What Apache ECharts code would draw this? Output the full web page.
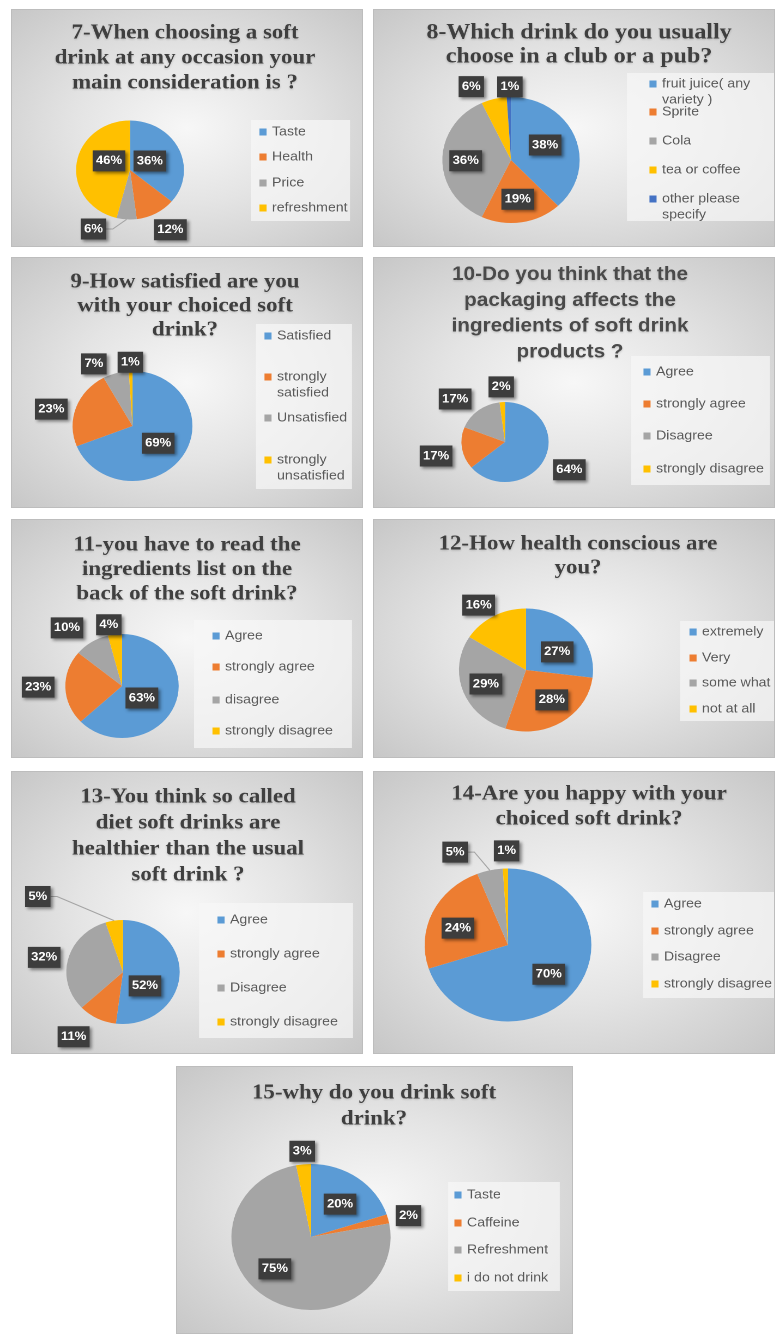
<!DOCTYPE html>
<html><head><meta charset="utf-8">
<script src="https://cdn.jsdelivr.net/npm/echarts@6/dist/echarts.min.js"></script>
<style>
html,body{margin:0;padding:0;background:#fff;width:776px;height:1335px;overflow:hidden;}
.panel{position:absolute;box-sizing:border-box;border:1px solid #bdbdbd;
  background:radial-gradient(ellipse farthest-corner at 50% 50%, #f7f7f7 0%, #e4e4e4 45%, #c7c7c7 100%);overflow:hidden;}
.chart{position:absolute;left:0;top:0;transform-origin:0 0;}
</style></head><body>
<script>
// ---------------- data ----------------
const q7Title = '7-When choosing a soft\ndrink at any occasion your\nmain consideration is ?';
const q7Categories = ['Taste', 'Health', 'Price', 'refreshment'];
const q7Values = [36, 12, 6, 46];

const q8Title = '8-Which drink do you usually\nchoose in a club or a pub?';
const q8Categories = ['fruit juice( any variety )', 'Sprite', 'Cola', 'tea or coffee', 'other please specify'];
const q8LegendText = ['fruit juice( any\nvariety )', 'Sprite', 'Cola', 'tea or coffee', 'other please\nspecify'];
const q8Values = [38, 19, 36, 6, 1];

const q9Title = '9-How satisfied are you\nwith your choiced soft\ndrink?';
const q9Categories = ['Satisfied', 'strongly satisfied', 'Unsatisfied', 'strongly unsatisfied'];
const q9LegendText = ['Satisfied', 'strongly\nsatisfied', 'Unsatisfied', 'strongly\nunsatisfied'];
const q9Values = [69, 23, 7, 1];

const q10Title = '10-Do you think that the\npackaging affects the\ningredients of soft drink\nproducts ?';
const q10Categories = ['Agree', 'strongly agree', 'Disagree', 'strongly disagree'];
const q10Values = [64, 17, 17, 2];

const q11Title = '11-you have to read the\ningredients list on the\nback of the soft drink?';
const q11Categories = ['Agree', 'strongly agree', 'disagree', 'strongly disagree'];
const q11Values = [63, 23, 10, 4];

const q12Title = '12-How health conscious are\nyou?';
const q12Categories = ['extremely', 'Very', 'some what', 'not at all'];
const q12Values = [27, 28, 29, 16];

const q13Title = '13-You think so called\ndiet soft drinks are\nhealthier than the usual\nsoft drink ?';
const q13Categories = ['Agree', 'strongly agree', 'Disagree', 'strongly disagree'];
const q13Values = [52, 11, 32, 5];

const q14Title = '14-Are you happy with your\nchoiced soft drink?';
const q14Categories = ['Agree', 'strongly agree', 'Disagree', 'strongly disagree'];
const q14Values = [70, 24, 5, 1];

const q15Title = '15-why do you drink soft\ndrink?';
const q15Categories = ['Taste', 'Caffeine', 'Refreshment', 'i do not drink'];
const q15Values = [20, 2, 75, 3];

// ---------------- styling / layout ----------------
const S = 1.09; // the reference picture is stretched horizontally
const COLORS = ['#5B9BD5', '#ED7D31', '#A5A5A5', '#FFC000', '#4472C4'];
const SERIF = '"Liberation Serif", "DejaVu Serif", serif';
const SANS = '"Liberation Sans", Arial, sans-serif';

const charts = [
  { title: q7Title, cats: q7Categories, vals: q7Values, panel: [11, 9, 352, 238], center: [130, 170], r: 49.5,
    titlePos: [185, 33], titleSize: 21, titleLH: 25, serif: true,
    place: [[0.41, -1], [1.42, -3], [1.37, 26], [0.43, 18]], leader: 2,
    legendX: 263, legendY: [132, 157, 183, 208], legendBox: [251, 120, 350, 221] },
  { title: q8Title, cats: q8Categories, legendText: q8LegendText, vals: q8Values, panel: [373, 9, 402, 238], center: [511, 160], r: 63,
    titlePos: [579, 33], titleSize: 22, titleLH: 24, serif: true,
    place: [[0.55, -4], [0.63, 0], [0.66, -1], [1.30, -12], [1.16, 1]], leader: -1,
    legendX: 653, legendY: [84, 112, 141, 170, 199], legendBox: [627, 73, 775, 221] },
  { title: q9Title, cats: q9Categories, legendText: q9LegendText, vals: q9Values, panel: [11, 257, 352, 251], center: [132.5, 426], r: 55,
    titlePos: [185, 282], titleSize: 21, titleLH: 24, serif: true,
    place: [[0.53, 2], [1.39, -7], [1.30, -13.5], [1.16, 0]], leader: -1,
    legendX: 268, legendY: [336, 377, 418, 460], legendBox: [256, 324, 352, 489] },
  { title: q10Title, cats: q10Categories, vals: q10Values, panel: [373, 257, 402, 251], center: [505, 442], r: 40,
    titlePos: [570, 275], titleSize: 19, titleLH: 25.7, serif: false,
    place: [[1.63, 0], [1.62, -3.5], [1.57, -9], [1.38, 0]], leader: -1,
    legendX: 647, legendY: [372, 404, 436, 469], legendBox: [631, 356, 770, 485] },
  { title: q11Title, cats: q11Categories, vals: q11Values, panel: [11, 519, 352, 239], center: [122, 686], r: 52,
    titlePos: [187, 545], titleSize: 21, titleLH: 24.5, serif: true,
    place: [[0.42, 10], [1.48, 1], [1.48, -8.6], [1.2, -4]], leader: -1,
    legendX: 216, legendY: [636, 667, 700, 731], legendBox: [194, 620, 352, 748] },
  { title: q12Title, cats: q12Categories, vals: q12Values, panel: [373, 519, 402, 239], center: [526, 670], r: 61.5,
    titlePos: [578, 544], titleSize: 21, titleLH: 24, serif: true,
    place: [[0.55, 9], [0.62, -6], [0.64, -1], [1.27, -5]], leader: -1,
    legendX: 693, legendY: [632, 658, 683, 709], legendBox: [680, 621, 775, 721] },
  { title: q13Title, cats: q13Categories, vals: q13Values, panel: [11, 771, 352, 283], center: [123, 972], r: 52,
    titlePos: [188, 797], titleSize: 21, titleLH: 26, serif: true,
    place: [[0.47, 31], [1.52, 8], [1.42, -3], [2.09, -37]], leader: 3,
    legendX: 221, legendY: [920, 954, 988, 1022], legendBox: [199, 903, 353, 1038] },
  { title: q14Title, cats: q14Categories, vals: q14Values, panel: [373, 771, 402, 283], center: [508, 945], r: 76.5,
    titlePos: [589, 794], titleSize: 21, titleLH: 25, serif: true,
    place: [[0.62, 2], [0.64, -5], [1.37, -15], [1.23, 1]], leader: 2,
    legendX: 655, legendY: [904, 931, 957, 984], legendBox: [643, 892, 775, 998] },
  { title: q15Title, cats: q15Categories, vals: q15Values, panel: [176, 1066, 397, 268], center: [311, 1237], r: 73,
    titlePos: [374, 1093], titleSize: 21, titleLH: 26, serif: true,
    place: [[0.58, 3], [1.26, 1], [0.63, 12], [1.18, 0]], leader: -1,
    legendX: 458, legendY: [1195, 1223, 1250, 1278], legendBox: [448, 1182, 560, 1291] }
];

function build(spec) {
  const [px, py, pw, ph] = spec.panel;
  const outer = document.createElement('div');
  outer.className = 'panel';
  Object.assign(outer.style, { left: px + 'px', top: py + 'px', width: pw + 'px', height: ph + 'px' });
  const inner = document.createElement('div');
  inner.className = 'chart';
  Object.assign(inner.style, { width: ((pw - 2) / S) + 'px', height: (ph - 2) + 'px', transform: 'scaleX(' + S + ')' });
  outer.appendChild(inner);
  document.body.appendChild(outer);

  const X = v => (v - px - 1) / S;
  const Y = v => v - py - 1;
  const cx = X(spec.center[0]), cy = Y(spec.center[1]), r = spec.r;
  const total = spec.vals.reduce((a, b) => a + b, 0);
  const mids = [];
  let acc = 0;
  spec.vals.forEach(v => { mids.push((acc + v / 2) / total * 360); acc += v; });

  const lh = 16, iw = 6.5, ih = 7;
  const legends = spec.cats.map((name, i) => {
    const txt = spec.legendText ? spec.legendText[i] : name;
    const lines = txt.split('\n').length;
    // blank leading lines keep the marker level with the first text line
    const shown = lines > 1 ? '\n'.repeat(lines - 1) + txt : txt;
    return {
      data: [name], orient: 'vertical', selectedMode: false,
      left: X(spec.legendX) - iw / 2,
      top: Y(spec.legendY[i]) - (2 * lines - 1) * lh / 2,
      padding: 0, itemGap: 0, itemWidth: iw, itemHeight: ih, icon: 'rect',
      formatter: () => shown,
      textStyle: { color: '#595959', fontSize: 13, fontFamily: SANS, lineHeight: lh }
    };
  });

  const b = spec.legendBox;
  const option = {
    animation: false,
    title: {
      text: spec.title, left: X(spec.titlePos[0]), top: Y(spec.titlePos[1]) - spec.titleLH / 2,
      textAlign: 'center', padding: 0,
      textStyle: {
        fontFamily: spec.serif ? SERIF : SANS, fontWeight: 'bold', fontSize: spec.titleSize,
        lineHeight: spec.titleLH, color: spec.serif ? '#3f3f3f' : '#4a4a4a',
        textShadowColor: 'rgba(0,0,0,0.18)', textShadowBlur: 2, textShadowOffsetY: 1
      }
    },
    legend: legends,
    graphic: [{
      type: 'rect', z: 0, silent: true,
      shape: { x: X(b[0]), y: Y(b[1]), width: (b[2] - b[0]) / S, height: b[3] - b[1] },
      style: { fill: 'rgba(246,246,246,0.72)' }
    }],
    series: [{
      type: 'pie', center: [cx, cy], radius: r, startAngle: 90, clockwise: true,
      avoidLabelOverlap: false, emphasis: { disabled: true },
      itemStyle: { borderWidth: 0 },
      data: spec.cats.map((name, i) => ({
        name, value: spec.vals[i], itemStyle: { color: COLORS[i] },
        label: { position: i === spec.leader ? 'outside' : 'inside' },
        labelLine: { show: i === spec.leader }
      })),
      label: {
        show: true, formatter: '{c}%', color: '#ffffff', fontFamily: SANS, fontWeight: 'bold',
        fontSize: 12, lineHeight: 14, backgroundColor: '#3d3d3d', padding: [4, 3, 3, 3],
        shadowColor: 'rgba(0,0,0,0.45)', shadowBlur: 3, shadowOffsetX: 2, shadowOffsetY: 2
      },
      labelLine: { show: false, length: 8, length2: 8, lineStyle: { color: '#a3a3a3', width: 1 } },
      labelLayout: function (p) {
        const i = p.dataIndex;
        const k = spec.place[i][0], da = spec.place[i][1];
        const th = (mids[i] + da) * Math.PI / 180;
        const x = cx + k * r * Math.sin(th), y = cy - k * r * Math.cos(th);
        const out = { x, y, align: 'center', verticalAlign: 'middle' };
        if (i === spec.leader) {
          const t0 = mids[i] * Math.PI / 180;
          const p0 = [cx + r * Math.sin(t0), cy - r * Math.cos(t0)];
          const hw = p.labelRect.width / 2;
          const side = p0[0] > x ? 1 : -1;
          const p2 = [x + side * hw, y];
          const p1 = [p2[0] + side * 6, y];
          out.labelLinePoints = [p0, p1, p2];
        }
        return out;
      }
    }]
  };
  const chart = echarts.init(inner, null, { renderer: 'canvas', devicePixelRatio: 2 });
  chart.setOption(option);
}

charts.forEach(build);
</script>
</body></html>
